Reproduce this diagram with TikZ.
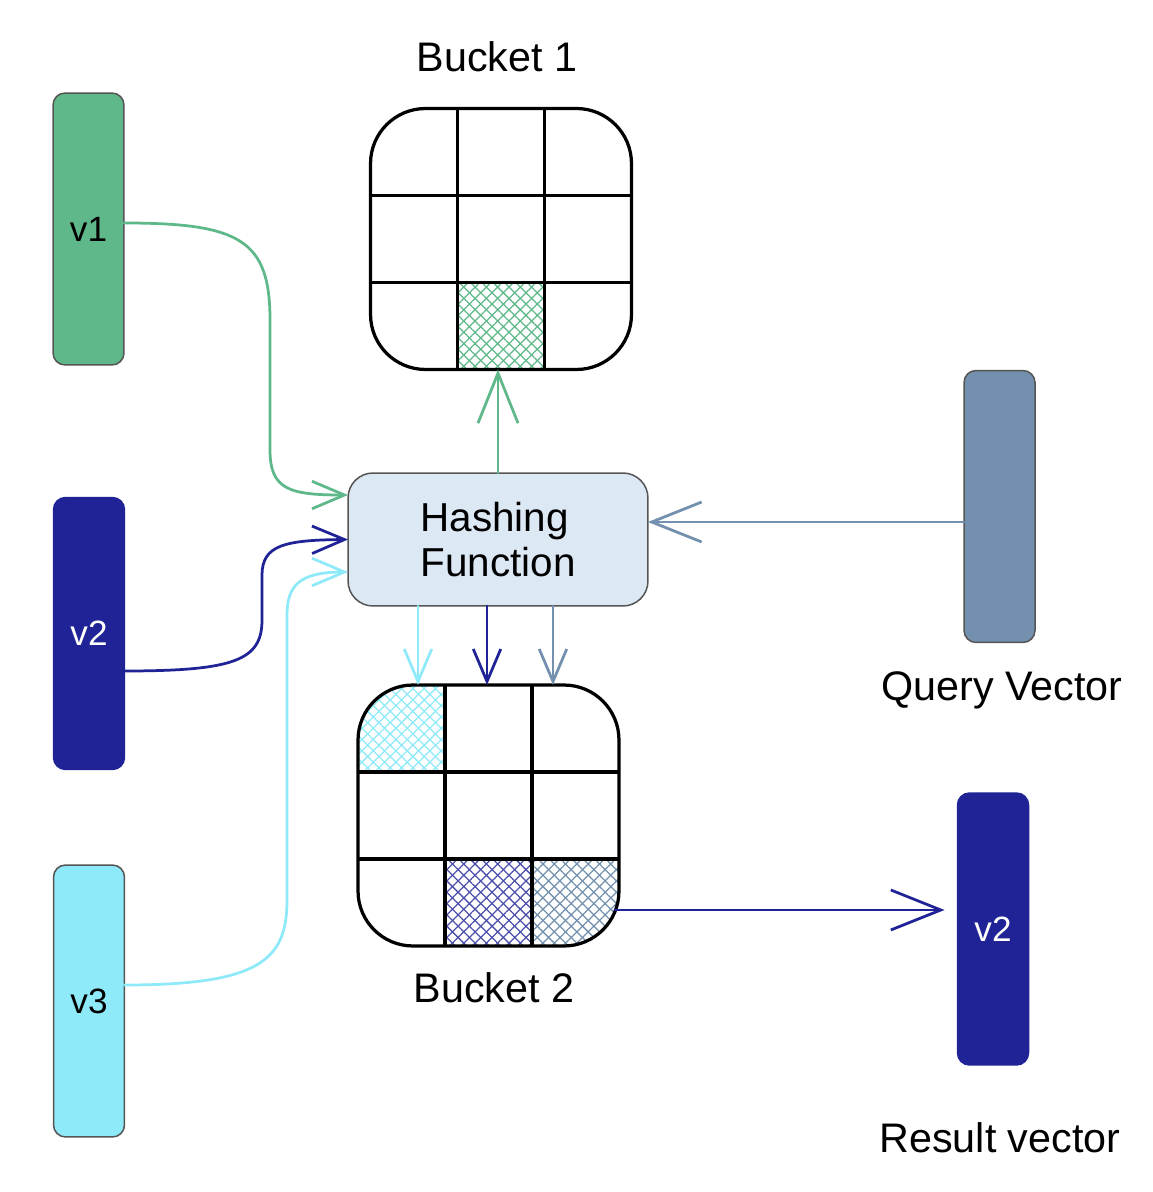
\documentclass[tikz,border=0pt]{standalone}
\usepackage{fontspec}
\setmainfont{Liberation Sans}
\usetikzlibrary{arrows.meta,calc,patterns.meta,backgrounds}
\definecolor{vgreen}{HTML}{5EB88A}
\definecolor{vblue}{HTML}{1F2396}
\definecolor{vcyan}{HTML}{8EEAF8}
\definecolor{vsteel}{HTML}{7391AE}
\definecolor{hashfill}{HTML}{DDE8F5}
\definecolor{outl}{HTML}{555555}
\tikzset{
  vec/.style={draw=outl, line width=0.3mm, rounded corners=0.24cm, minimum width=1.42cm, minimum height=5.44cm, inner sep=0pt, outer sep=0pt, font=\fontsize{20}{24}\selectfont},
  bucket/.style={draw=black, line width=0.65mm, rounded corners=1.1cm, minimum width=5.22cm, minimum height=5.22cm, inner sep=0pt, outer sep=0pt},
  gridline/.style={draw=black, line width=0.65mm},
  hashbox/.style={draw=outl, line width=0.3mm, fill=hashfill, rounded corners=0.5cm, minimum width=6cm, minimum height=2.66cm, inner sep=0pt, outer sep=0pt, align=left, font=\fontsize{23}{26}\selectfont},
  lbl/.style={font=\fontsize{23.5}{26}\selectfont, inner sep=0pt},
  conn/.style={line width=0.55mm, line cap=round, -{Straight Barb[length=6.5mm,width=5.5mm,line width=0.55mm]}},
  bigconn/.style={line width=0.55mm, line cap=round, -{Straight Barb[length=10mm,width=8mm,line width=0.55mm]}},
  xhatch/.style={pattern={Lines[angle=45,distance=1.6mm,line width=0.25mm]}, pattern color=#1,
    postaction={pattern={Lines[angle=-45,distance=1.6mm,line width=0.25mm]}, pattern color=#1}}
}
\begin{document}
\begin{tikzpicture}[x=0.02cm,y=-0.02cm]
\useasboundingbox (0,0) rectangle (1152,1192);

% vectors
\node[vec, fill=vgreen] (v1) at (88.5,229) {v1};
\node[vec, fill=vblue, draw=vblue, text=white] (v2) at (89,633.5) {v2};
\node[vec, fill=vcyan] (v3) at (89,1001) {v3};
\node[vec, fill=vsteel] (q) at (999.5,506.5) {};
\node[vec, fill=vblue, draw=vblue, text=white] (r) at (993,929) {v2};

% buckets
\node[bucket] (b1) at (501,239) {};
\node[bucket] (b2) at (488.5,815.5) {};

% hashing function
\node[hashbox] (hash) at (498,539.5) {Hashing\\Function};

% labels
\node[lbl] (tb1) at (497,57) {Bucket 1};
\node[lbl] (tb2) at (494,988) {Bucket 2};
\node[lbl] (tq) at (1002,690) {Query Vector};
\node[lbl] (tr) at (1000,1138) {Result vector};

% background and hatched cells
\begin{scope}[on background layer]
  \fill[white] (0,0) rectangle (1152,1192);
  \begin{scope}
    \clip[rounded corners=1.1cm] (b1.south west) rectangle (b1.north east);
    \path[xhatch=vgreen] ([xshift=1.74cm]b1.south west) rectangle ([xshift=3.48cm,yshift=1.74cm]b1.south west);
  \end{scope}
  \begin{scope}
    \clip[rounded corners=1.1cm] (b2.south west) rectangle (b2.north east);
    \path[xhatch=vcyan] (b2.north west) rectangle ([xshift=1.74cm,yshift=-1.74cm]b2.north west);
    \path[xhatch=vblue!80] ([xshift=1.74cm]b2.south west) rectangle ([xshift=3.48cm,yshift=1.74cm]b2.south west);
    \path[xhatch=vsteel] ([xshift=3.48cm]b2.south west) rectangle ([yshift=1.74cm]b2.south east);
  \end{scope}
\end{scope}

% grid lines
\foreach \t in {0.3333,0.6667} {
  \draw[gridline] ($(b1.north west)!\t!(b1.north east)$) -- ($(b1.south west)!\t!(b1.south east)$);
  \draw[gridline] ($(b1.north west)!\t!(b1.south west)$) -- ($(b1.north east)!\t!(b1.south east)$);
  \draw[gridline] ($(b2.north west)!\t!(b2.north east)$) -- ($(b2.south west)!\t!(b2.south east)$);
  \draw[gridline] ($(b2.north west)!\t!(b2.south west)$) -- ($(b2.north east)!\t!(b2.south east)$);
}

% connectors into hashing function
\draw[conn, vgreen] ([yshift=0.12cm]v1.east) .. controls (240,223) and (270,240) .. (270,320)
  -- (270,450) .. controls (270,490) and (290,495) .. ([yshift=0.89cm]hash.west);
\draw[conn, vblue] ([yshift=-0.75cm]v2.east) .. controls (235,671) and (262,660) .. (262,620)
  -- (262,575) .. controls (262,545) and (285,540) .. (hash.west);
\draw[conn, vcyan] ([yshift=0.32cm]v3.east) .. controls (260,985) and (287,960) .. (287,900)
  -- (287,615) .. controls (287,585) and (300,572) .. ([yshift=-0.65cm]hash.west);
\draw[bigconn, vsteel] ([yshift=-0.31cm]q.west) coordinate (qa) -- (qa -| hash.east);

% hashing function to buckets
\draw[bigconn, vgreen] (hash.north) -- (hash.north |- b1.south);
\draw[conn, vcyan] ([xshift=-1.6cm]hash.south) coordinate (d1) -- (d1 |- b2.north);
\draw[conn, vblue] ([xshift=-0.22cm]hash.south) coordinate (d2) -- (d2 |- b2.north);
\draw[conn, vsteel] ([xshift=1.1cm]hash.south) coordinate (d3) -- (d3 |- b2.north);

% bucket 2 to result
\draw[bigconn, vblue, shorten >=0.26cm] ([xshift=-0.08cm,yshift=-1.89cm]b2.east) coordinate (ra) -- (ra -| r.west);
\end{tikzpicture}
\end{document}
